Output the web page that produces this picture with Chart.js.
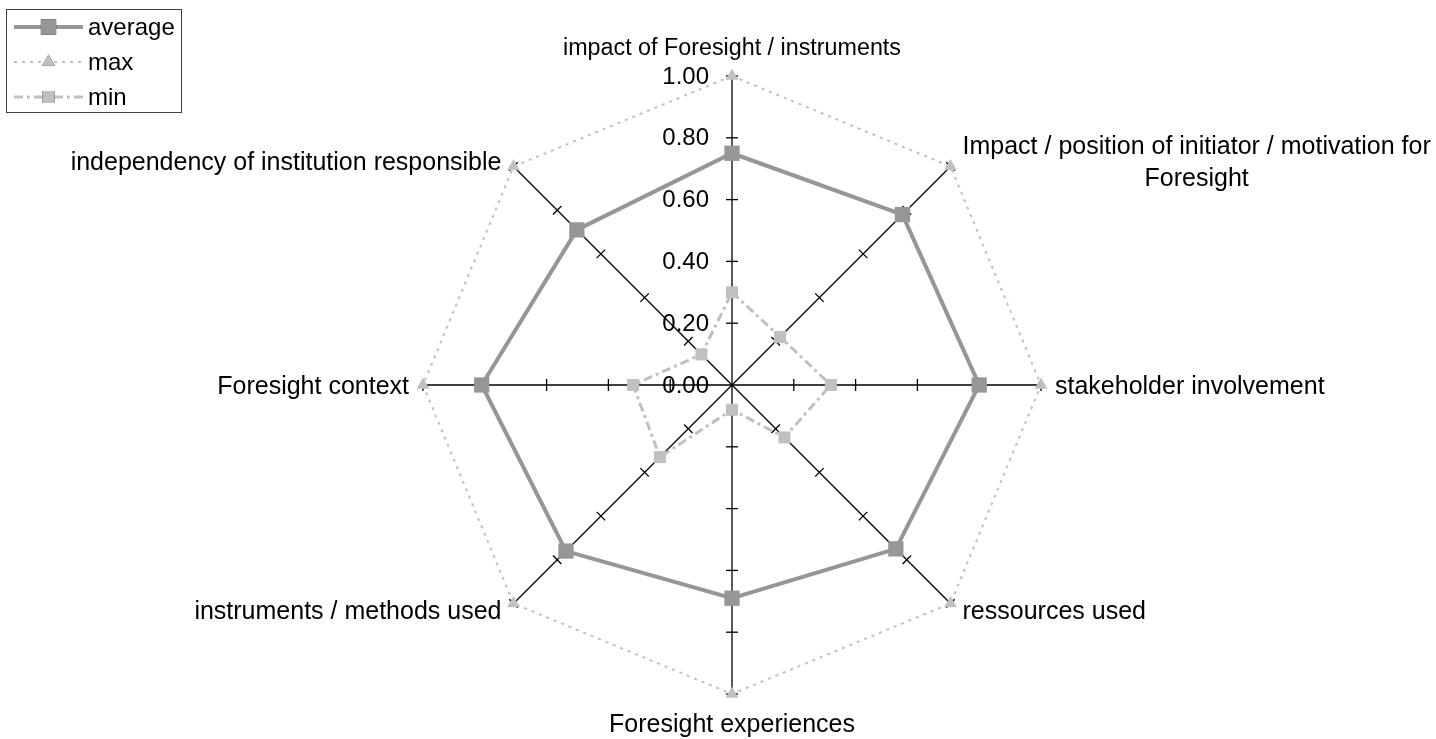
<!DOCTYPE html>
<html>
<head>
<meta charset="utf-8">
<title>Foresight radar</title>
<script src="https://cdn.jsdelivr.net/npm/chart.js@4/dist/chart.umd.min.js"></script>
<style>
  html, body { margin: 0; padding: 0; background: #fff; }
  #wrap { width: 1436px; height: 739px; }
</style>
</head>
<body>
<div id="wrap"><canvas id="radar" width="1436" height="739"></canvas></div>
<script>
const categories = [
  "impact of Foresight / instruments",
  ["Impact / position of initiator / motivation for", "Foresight"],
  "stakeholder involvement",
  "ressources used",
  "Foresight experiences",
  "instruments / methods used",
  "Foresight context",
  "independency of institution responsible"
];
const averageValues = [0.75, 0.78, 0.80, 0.75, 0.69, 0.76, 0.81, 0.71];
const maxValues = [1.00, 1.00, 1.00, 1.00, 1.00, 1.00, 1.00, 1.00];
const minValues = [0.30, 0.22, 0.32, 0.24, 0.08, 0.33, 0.32, 0.14];
const tickValues = [0, 0.2, 0.4, 0.6, 0.8, 1.0];

const FAMILY = "'Liberation Sans', Arial, sans-serif";
const FONT = "24px " + FAMILY;
const LABEL_FONT = "25px " + FAMILY;
const TOP_LABEL_FONT = "23.3px " + FAMILY;
const AVG_COLOR = "#969696";
const LIGHT = "#c0c0c0";

// small cross ticks on every spoke + value labels beside the top spoke
const spokeTicks = {
  id: "spokeTicks",
  beforeDatasetsDraw(chart) {
    const scale = chart.scales.r;
    const ctx = chart.ctx;
    ctx.save();
    ctx.strokeStyle = "#000";
    ctx.lineWidth = 1.3;
    for (let i = 0; i < categories.length; i++) {
      tickValues.forEach(v => {
        if (v === 0) return;
        const p = scale.getPointPositionForValue(i, v);
        const px = -Math.sin(p.angle) * 6, py = Math.cos(p.angle) * 6;
        ctx.beginPath();
        ctx.moveTo(p.x - px, p.y - py);
        ctx.lineTo(p.x + px, p.y + py);
        ctx.stroke();
      });
    }
    ctx.fillStyle = "#000";
    ctx.font = FONT;
    ctx.textAlign = "right";
    ctx.textBaseline = "middle";
    tickValues.forEach(v => {
      const p = scale.getPointPositionForValue(0, v);
      ctx.fillText(v.toFixed(2), p.x - 23, p.y + 1);
    });
    ctx.restore();
  },
  afterDraw(chart) {
    const scale = chart.scales.r;
    const ctx = chart.ctx;
    ctx.save();
    ctx.fillStyle = "#000";
    ctx.textBaseline = "middle";
    const lh = 32;
    categories.forEach((label, i) => {
      const lines = Array.isArray(label) ? label : [label];
      ctx.font = i === 0 ? TOP_LABEL_FONT : LABEL_FONT;
      const p0 = scale.getPointPosition(i, scale.drawingArea);
      const isHoriz = Math.abs(p0.y - scale.yCenter) < 1;
      const p = scale.getPointPosition(i, scale.drawingArea + (isHoriz ? 14 : 17));
      const dx = p.x - scale.xCenter, dy = p.y - scale.yCenter;
      let y = p.y + 2;
      if (Math.abs(dx) < 1) {
        y += dy < 0 ? -12 : 12;
      } else if (Math.abs(dy) > 1) {
        y += dy < 0 ? 7 : -5;
      }
      const top = y - (lines.length - 1) * lh / 2;
      ctx.textAlign = "center";
      if (Math.abs(dx) < 1) {
        lines.forEach((t, k) => ctx.fillText(t, p.x, top + k * lh));
      } else {
        // multi-line labels are centred under their widest line
        const w = Math.max(...lines.map(t => ctx.measureText(t).width));
        const cx = dx > 0 ? p.x + w / 2 : p.x - w / 2;
        lines.forEach((t, k) => ctx.fillText(t, cx, top + k * lh));
      }
    });

    // legend box
    ctx.font = FONT;
    ctx.strokeStyle = "#404040";
    ctx.lineWidth = 1;
    ctx.strokeRect(6.5, 9.5, 175, 103);
    ctx.textAlign = "left";
    chart.data.datasets.forEach((ds, k) => {
      const y = 27 + k * 35;
      ctx.save();
      ctx.strokeStyle = ds.borderColor;
      ctx.lineWidth = ds.borderWidth;
      ctx.setLineDash(ds.borderDash || []);
      ctx.beginPath();
      ctx.moveTo(14, y);
      ctx.lineTo(83, y);
      ctx.stroke();
      ctx.restore();
      Chart.helpers.drawPoint(ctx, {
        pointStyle: ds.pointStyle,
        radius: ds.pointRadius,
        rotation: 0,
        borderWidth: 0
      }, 48.5, y);
      ctx.fillStyle = ds.pointBackgroundColor;
      ctx.fill();
      ctx.fillStyle = "#000";
      ctx.fillText(ds.label, 88, y + 1);
    });
    ctx.restore();
  }
};

new Chart(document.getElementById("radar"), {
  type: "radar",
  data: {
    labels: categories,
    datasets: [
      {
        label: "average",
        data: averageValues,
        borderColor: AVG_COLOR,
        borderWidth: 4,
        pointStyle: "rect",
        pointRadius: 10.8,
        pointBackgroundColor: AVG_COLOR,
        pointBorderWidth: 0,
        fill: false
      },
      {
        label: "max",
        data: maxValues,
        borderColor: LIGHT,
        borderWidth: 2,
        borderDash: [3, 5],
        pointStyle: "triangle",
        pointRadius: 7.5,
        pointBackgroundColor: LIGHT,
        pointBorderWidth: 0,
        fill: false
      },
      {
        label: "min",
        data: minValues,
        borderColor: LIGHT,
        borderWidth: 3,
        borderDash: [9, 4, 3, 4],
        pointStyle: "rect",
        pointRadius: 8.5,
        pointBackgroundColor: LIGHT,
        pointBorderWidth: 0,
        fill: false
      }
    ]
  },
  options: {
    responsive: false,
    animation: false,
    devicePixelRatio: 1,
    layout: { padding: { top: 76, bottom: 45, left: 28, right: 0 } },
    plugins: { legend: { display: false }, tooltip: { enabled: false } },
    elements: { line: { tension: 0 } },
    scales: {
      r: {
        min: 0,
        max: 1,
        ticks: { display: false, stepSize: 0.2 },
        grid: { display: false },
        angleLines: { display: true, color: "#000", lineWidth: 1.3 },
        pointLabels: { display: false }
      }
    }
  },
  plugins: [spokeTicks]
});
</script>
</body>
</html>
